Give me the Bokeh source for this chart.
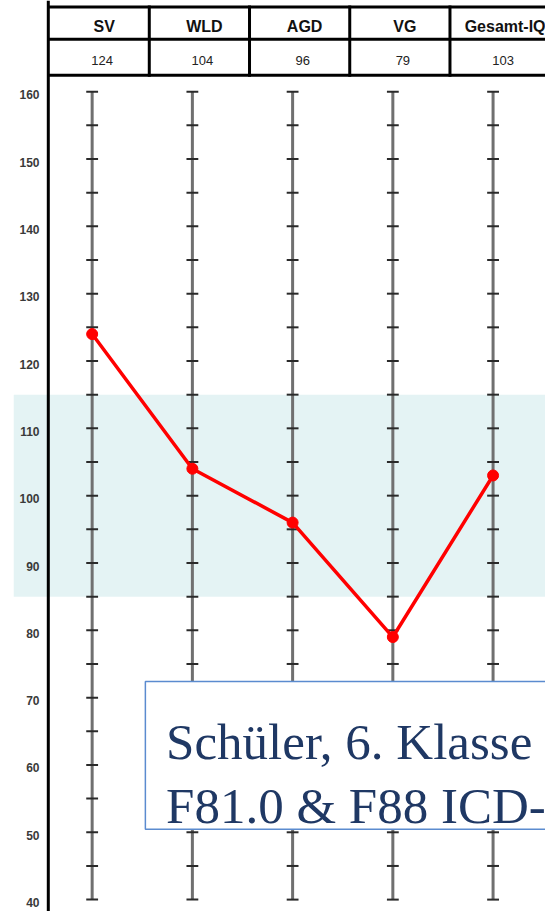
import numpy as np
from bokeh.plotting import figure
from bokeh.models import Range1d, LinearAxis, FixedTicker, BoxAnnotation, Label, Span
from bokeh.core.properties import value
from bokeh.embed import file_html
from bokeh.resources import INLINE

# ---- data ----
categories = ["SV", "WLD", "AGD", "VG", "Gesamt-IQ"]
scores = [124, 104, 96, 79, 103]
score_labels = ["124", "104", "96", "79", "103"]
y_ticks = [40, 50, 60, 70, 80, 90, 100, 110, 120, 130, 140, 150, 160]
scale_min, scale_max, scale_step = 40, 160, 5
band_low, band_high = 85, 115
note_lines = ["Schüler, 6. Klasse", "F81.0 & F88 ICD-10"]

# ---- geometry (reference pixels, figure = reference scaled to fit) ----
W, H = 545, 911
REF_W, REF_H = 553, 919
KX, KY = W / REF_W, H / REF_H
X0_PX, DX_PX = 93.0, 101.7
Y160_PX, PX_PER_UNIT = 92.0, 6.7917
BORDER_L = 13  # canvas px left of frame


def xd(px):
    return (px - X0_PX) / DX_PX


def yd(py):
    return 160 - (py - Y160_PX) / PX_PER_UNIT


idx = list(range(len(categories)))

p = figure(width=W, height=H,
           x_range=Range1d(xd(BORDER_L / KX), xd(REF_W)),
           y_range=Range1d(yd(REF_H), yd(0)),
           output_backend="svg", toolbar_location=None,
           x_axis_location=None, y_axis_location=None,
           min_border_left=BORDER_L, min_border_right=0,
           min_border_top=0, min_border_bottom=0)
p.outline_line_color = None
p.grid.visible = False
p.background_fill_color = "white"
p.border_fill_color = "white"

# average band
band = BoxAnnotation(bottom=band_low, top=band_high,
                     fill_color="#e4f3f4", fill_alpha=1.0, line_color=None,
                     level="underlay")
p.add_layout(band)

# y axis: labels sit inside, left of the thick black line
lab_shift = 0.45
y0, y1 = yd(REF_H), yd(0)
p.extra_y_ranges = {"lab": Range1d(y0 + lab_shift, y1 + lab_shift)}
ax = LinearAxis(y_range_name="lab", ticker=FixedTicker(ticks=y_ticks))
ax.axis_line_color = None
ax.major_tick_line_color = None
ax.minor_tick_line_color = None
ax.major_tick_out = 0
ax.major_tick_in = 0
ax.major_label_standoff = -26
ax.major_label_text_font = "Liberation Sans"
ax.major_label_text_font_size = "12px"
ax.major_label_text_font_style = "bold"
ax.major_label_text_color = "#3a3a3a"
p.add_layout(ax, "left")

p.add_layout(Span(location=xd(48.5), dimension="height", line_color="black",
                  line_width=3))

# scale lines with tick marks
p.segment(x0=idx, y0=[scale_min] * len(idx), x1=idx, y1=[scale_max] * len(idx),
          line_color="#707070", line_width=3)
tv = np.arange(scale_min, scale_max + 1, scale_step)
tx0, tx1, ty = [], [], []
half = 6.0 / DX_PX
for i in idx:
    for v in tv:
        tx0.append(i - half)
        tx1.append(i + half)
        ty.append(v)
p.segment(x0=tx0, y0=ty, x1=tx1, y1=ty, line_color="#2a2a2a", line_width=2)

# profile line
p.line(idx, scores, line_color="#ff0000", line_width=3.5)
p.scatter(idx, scores, size=11, fill_color="#ff0000", line_color="#ff0000")

# header table
hy = [yd(6.5), yd(39), yd(75.5)]
p.segment(x0=[xd(48)] * 3, y0=hy, x1=[xd(REF_W + 10)] * 3, y1=hy,
          line_color="black", line_width=3)
sep_x = [i + 0.57 for i in idx[:-1]]
p.segment(x0=sep_x, y0=[yd(5)] * len(sep_x), x1=sep_x, y1=[yd(77)] * len(sep_x),
          line_color="black", line_width=3)

p.text(x=[i + 0.12 for i in idx], y=[yd(26.5)] * len(idx), text=categories,
       text_font=value("Liberation Sans"), text_font_style="bold",
       text_font_size="16px", text_align="center", text_baseline="middle",
       text_color="#111111")
p.text(x=[i + 0.1 for i in idx], y=[yd(60.5)] * len(idx), text=score_labels,
       text_font=value("Liberation Sans"), text_font_size="13px",
       text_align="center", text_baseline="middle", text_color="#222222")

# note box
note = BoxAnnotation(left=xd(147), right=xd(620), top=yd(687), bottom=yd(836),
                     fill_color="white", fill_alpha=1.0,
                     line_color="#5b8bcf", line_alpha=1.0, line_width=1.5)
p.add_layout(note)
for line_txt, base_px in zip(note_lines, [748, 813]):
    p.add_layout(Label(x=xd(168), y=yd(base_px), text=line_txt,
                       text_font="Liberation Serif", text_font_size="51px",
                       text_color="#1f3864", text_baseline="alphabetic",
                       text_align="left"))

open("out.html", "w").write(file_html(p, INLINE))
